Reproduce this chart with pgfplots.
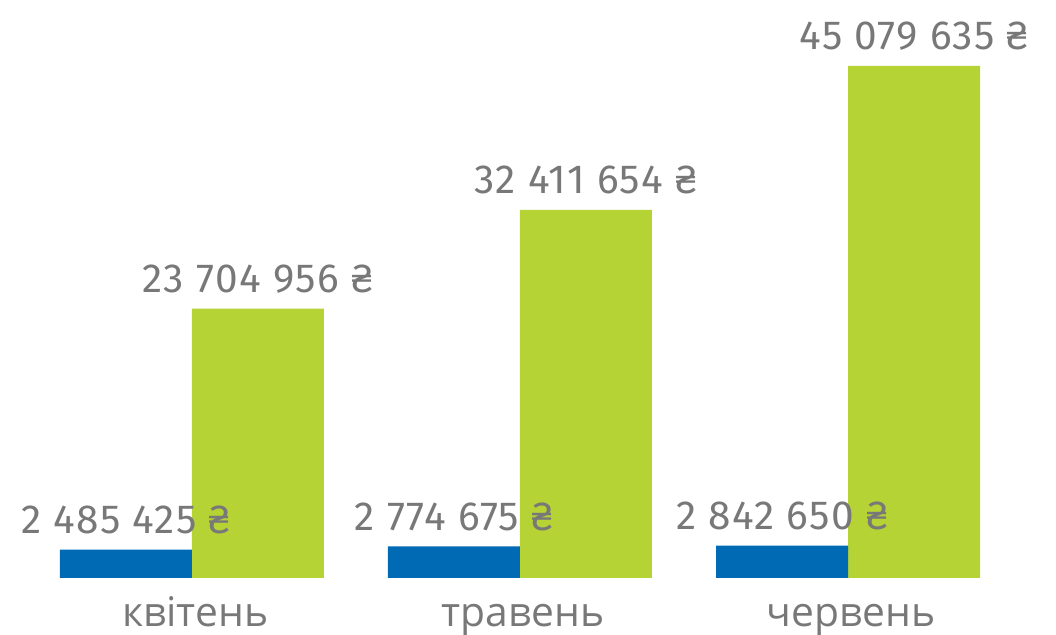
\documentclass[border=0pt]{standalone}
\usepackage{fontspec}
\setmainfont{Fira Sans}[LetterSpace=3.5]
\newfontfamily\catfont{Open Sans}
\usepackage{pgfplots}
\pgfplotsset{compat=1.18}
\definecolor{cblue}{HTML}{006AB4}
\definecolor{cgreen}{HTML}{B5D334}
\definecolor{tgray}{HTML}{787878}
\begin{document}
\begin{tikzpicture}
\begin{axis}[
  scale only axis,
  width=528pt, height=317.5pt,
  xmin=-0.585, xmax=2.634,
  ymin=-5.02e6, ymax=50.88e6,
  axis line style={draw=none},
  tick style={draw=none},
  xtick=\empty, ytick=\empty,
  clip=false,
  ybar, bar width=66pt,
  point meta=explicit symbolic,
  nodes near coords,
  every node near coord/.append style={anchor=base, yshift=8pt, text=tgray, font=\fontsize{20.3}{24}\selectfont},
]
\addplot[fill=cgreen, draw=none, bar shift=33pt] coordinates {
  (0,23704956) [23 704 956 ₴]
  (1,32411654) [32 411 654 ₴]
  (2,45079635) [45 079 635 ₴]
};
\addplot[fill=cblue, draw=none, bar shift=-33pt] coordinates {
  (0,2485425) [2 485 425 ₴]
  (1,2774675) [2 774 675 ₴]
  (2,2842650) [2 842 650 ₴]
};
\node[anchor=base, text=tgray, font=\catfont\fontsize{20.4}{24}\selectfont] at (axis cs:0.01,-4.3e6) {квітень};
\node[anchor=base, text=tgray, font=\catfont\fontsize{20.4}{24}\selectfont] at (axis cs:1.01,-4.3e6) {травень};
\node[anchor=base, text=tgray, font=\catfont\fontsize{20.4}{24}\selectfont] at (axis cs:2.01,-4.3e6) {червень};
\end{axis}
\pgfresetboundingbox
\useasboundingbox (current axis.south west) rectangle (current axis.north east);
\end{tikzpicture}
\end{document}
